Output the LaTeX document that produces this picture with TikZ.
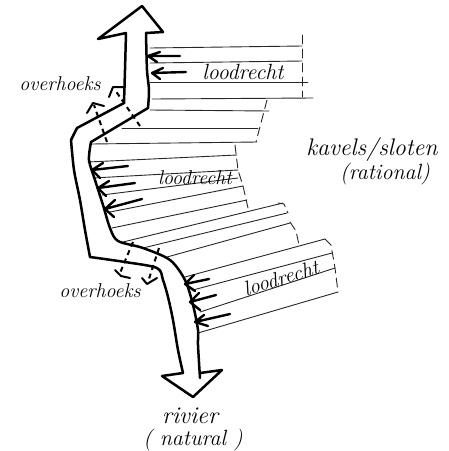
\documentclass[tikz,border=0pt]{standalone}
\begin{document}
\begin{tikzpicture}[x=1pt,y=-1pt,line cap=round,line join=round,
  river/.style={line width=2.5pt},
  plotline/.style={line width=0.9pt,black!85},
  boundary/.style={line width=0.9pt,black!85,dash pattern=on 9pt off 5pt},
  push/.style={line width=2.4pt},
  diag/.style={line width=2pt,dash pattern=on 5pt off 4pt,line cap=butt},
  diaghead/.style={line width=2pt},
  hand/.style={inner sep=0pt,font=\fontsize{#1}{#1}\selectfont\itshape}]
\useasboundingbox (0,0) rectangle (449,451);
% plots: top block
\draw[plotline] (150,48) -- (302,46);
\draw[plotline] (150,63) -- (302,61);
\draw[plotline] (150,82) -- (308,82);
\draw[plotline] (152,99) -- (313,98);
\draw[boundary] (302,35) -- (302,97);
% plots: step
\draw[plotline] (150,110) -- (269,111);
\draw[plotline] (122,128) -- (258,128);
\draw[plotline] (91,144) -- (257,142);
\draw[boundary] (267,100) -- (256,142);
% plots: middle block
\draw[plotline] (88,162) -- (237,155);
\draw[plotline] (93,178) -- (238,170);
\draw[plotline] (102,195) -- (238,178);
\draw[plotline] (110,212) -- (243,186);
\draw[plotline] (112,228) -- (247,200);
\draw[boundary] (235,145) -- (238,170) -- (243,186) -- (248,208);
% plots: fan
\draw[plotline] (123,242) -- (283,203);
\draw[plotline] (143,248) -- (287,213);
\draw[plotline] (167,257) -- (290,223);
\draw[boundary] (278,203) -- (284,204) -- (288,213);
\draw[boundary] (290,222) -- (296,231) -- (299,245);
% plots: lower block
\draw[plotline] (185,277) -- (325,239);
\draw[plotline] (193,290) -- (332,253);
\draw[plotline] (200,312) -- (335,268);
\draw[plotline] (198,333) -- (338,292);
\draw[boundary] (325,239) -- (331,245) -- (335,268) -- (338,292);
% river
\draw[river] (126,33) -- (98,39) -- (142,6) -- (163,32) -- (146,33);
\draw[river] plot[smooth,tension=0.5] coordinates {(126,33) (125,70) (124,103)} -- (77,128) -- (71,140);
\draw[river] plot[smooth,tension=0.5] coordinates {(71,140) (74,170) (80,200) (85,230) (90,257)};
\draw[river] plot[smooth,tension=0.5] coordinates {(90,257) (125,262) (157,268) (163,280) (168,297) (173,320) (178,350) (183,373)};
\draw[river] (183,373) -- (162,376) -- (193,397) -- (222,370) -- (200,373);
\draw[river] plot[smooth,tension=0.5] coordinates {(146,33) (147,70) (149,90) (148,108)} -- (91,142);
\draw[river] plot[smooth,tension=0.5] coordinates {(91,142) (89,160) (95,180) (103,205) (110,228) (118,241) (143,248) (170,260) (185,280) (193,305) (198,330) (198,345) (200,378)};
% perpendicular arrows
\draw[push] (180,56) -- (148,56) (160,52) -- (148,56) -- (157,62);
\draw[push] (186,72) -- (152,73) (163,68) -- (152,73) -- (160,79);
\draw[push] (128,166) -- (92,170) (103,163) -- (92,170) -- (100,178);
\draw[push] (135,183) -- (98,188) (109,181) -- (98,188) -- (106,196);
\draw[push] (142,199) -- (105,209) (115,200) -- (105,209) -- (114,217);
\draw[push] (209,279) -- (185,284) (194,275) -- (185,284) -- (195,291);
\draw[push] (216,295) -- (190,302) (199,293) -- (190,302) -- (200,310);
\draw[push] (230,314) -- (195,322) (204,315) -- (195,322) -- (208,326);
% diagonal arrows
\draw[diag] (107,142) -- (94,105);
\draw[diaghead] (87,113) -- (93,103) -- (104,106);
\draw[diag] (140,126) -- (115,90);
\draw[diaghead] (109,97) -- (113,87) -- (125,87);
\draw[diag] (133,242) -- (120,273);
\draw[diaghead] (115,270) -- (121,276) -- (130,278);
\draw[diag] (159,248) -- (148,282);
\draw[diaghead] (142,278) -- (147,284) -- (157,278);
% labels
\node[hand=22] (l1) at (243,72) {loodrecht};
\node[hand=20] (l2) at (195,178) {loodrecht};
\node[hand=21,rotate=17] (l3) at (281,278) {loodrecht};
\node[hand=20] (o1) at (60,84) {overhoeks};
\node[hand=20] (o2) at (100,291) {overhoeks};
\node[hand=24] (k1) at (372,149) {kavels/sloten};
\node[hand=22] (k2) at (385,174) {(rational)};
\node[hand=24] (r1) at (190,416) {rivier};
\node[hand=22] (r2) at (193,440) {( natural )};
\end{tikzpicture}
\end{document}
